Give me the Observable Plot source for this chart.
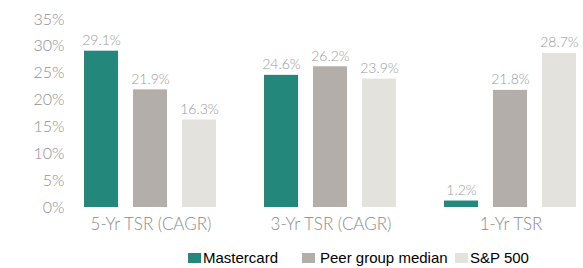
<!DOCTYPE html>
<html>
<head>
<meta charset="utf-8">
<script src="https://cdn.jsdelivr.net/npm/d3@7"></script>
<script src="https://cdn.jsdelivr.net/npm/@observablehq/plot@0.6"></script>
<style>
  html, body { margin: 0; padding: 0; background: #fff; overflow: hidden; }
  #chart { position: relative; width: 583px; height: 268px; }
  #chart svg { display: block; }
  .legend { position: absolute; left: 0; top: 247px; width: 583px; height: 22px; font-family: "Liberation Sans", Arial, sans-serif; font-size: 15px; color: #000; }
  .legend .sw { position: absolute; top: 6px; width: 13px; height: 10px; }
  .legend .lbl { position: absolute; top: 1px; white-space: nowrap; line-height: 20px; }
</style>
</head>
<body>
<div id="chart"></div>
<script>
const groups = ["5-Yr TSR (CAGR)", "3-Yr TSR (CAGR)", "1-Yr TSR"];
const seriesNames = ["Mastercard", "Peer group median", "S&P 500"];
const mastercard = [29.1, 24.6, 1.2];
const peerMedian = [21.9, 26.2, 21.8];
const sp500 = [16.3, 23.9, 28.7];
const yTicks = [0, 5, 10, 15, 20, 25, 30, 35];
const colors = ["#24877b", "#b3aea9", "#e4e2dc"];

const seriesValues = [mastercard, peerMedian, sp500];
const data = [];
groups.forEach((g, gi) => seriesNames.forEach((s, si) => data.push({group: g, series: s, value: seriesValues[si][gi]})));

const font = "Lato, 'Open Sans', sans-serif";
const chart = Plot.plot({
  width: 583,
  height: 235,
  marginTop: 19,
  marginBottom: 28,
  marginLeft: 60,
  marginRight: 0,
  style: {fontFamily: font, background: "#fff"},
  fx: {domain: groups, range: [59.5, 601.5], paddingInner: 0.17, paddingOuter: 0.085, label: null},
  x: {domain: seriesNames, paddingInner: 0.3, paddingOuter: 0.15, axis: null},
  y: {domain: [0, 35], label: null},
  color: {domain: seriesNames, range: colors},
  marks: [
    Plot.axisY({ticks: yTicks, tickSize: 0, tickPadding: 12, tickFormat: d => d + "%", fontSize: 16, fill: "#8f8f8f", fontWeight: 300, label: null}),
    Plot.axisFx({anchor: "bottom", tickSize: 0, tickPadding: 10, fontSize: 17, fill: "#8a8a8a", fontWeight: 300, label: null}),
    Plot.barY(data, {fx: "group", x: "series", y: "value", fill: "series"}),
    Plot.text(data, {fx: "group", x: "series", y: "value", text: d => d.value.toFixed(1) + "%", lineAnchor: "bottom", dy: -6, fontSize: 14, fontWeight: 300, fill: "#999999"})
  ]
});
document.getElementById("chart").appendChild(chart);

const legendPos = [[188, 203], [302, 320], [455, 470]];
const legend = document.createElement("div");
legend.className = "legend";
seriesNames.forEach((s, i) => {
  const sw = document.createElement("span");
  sw.className = "sw";
  sw.style.left = legendPos[i][0] + "px";
  sw.style.background = colors[i];
  const lbl = document.createElement("span");
  lbl.className = "lbl";
  lbl.style.left = legendPos[i][1] + "px";
  lbl.textContent = s;
  legend.appendChild(sw);
  legend.appendChild(lbl);
});
document.getElementById("chart").appendChild(legend);
</script>
</body>
</html>
